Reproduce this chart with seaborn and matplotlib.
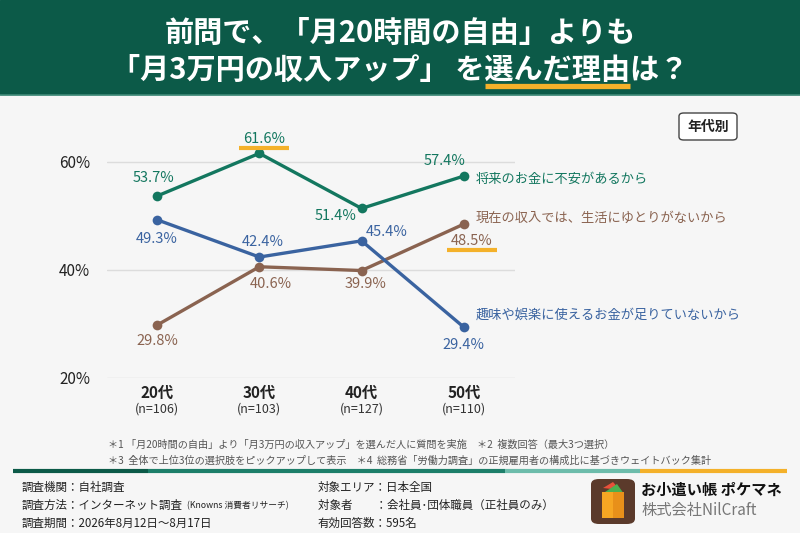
import matplotlib
matplotlib.use("Agg")
import matplotlib.pyplot as plt
from matplotlib.lines import Line2D
from matplotlib.patches import Rectangle, FancyBboxPatch, Polygon
import numpy as np
import pandas as pd
import seaborn as sns

# ---- data -------------------------------------------------------------
ages = ["20代", "30代", "40代", "50代"]
sample_sizes = ["(n=106)", "(n=103)", "(n=127)", "(n=110)"]

reasons = [
    "将来のお金に不安があるから",
    "現在の収入では、生活にゆとりがないから",
    "趣味や娯楽に使えるお金が足りていないから",
]
anxiety = [53.7, 61.6, 51.4, 57.4]
no_room = [29.8, 40.6, 39.9, 48.5]
hobby = [49.3, 42.4, 45.4, 29.4]

y_ticks = [20, 40, 60]

# ---- style --------------------------------------------------------------
GREEN_DARK = "#0c5a48"
BG = "#f6f6f6"
ORANGE = "#f4b12a"
palette = {reasons[0]: "#13775f", reasons[1]: "#8a6350", reasons[2]: "#3a63a0"}

sns.set_style("white")
plt.rcParams["font.family"] = ["Noto Sans CJK JP", "DejaVu Sans"]

W, H = 800, 533
fig = plt.figure(figsize=(W / 100, H / 100), dpi=100, facecolor=BG)
renderer = fig.canvas.get_renderer()


def fx(px):
    return px / W


def fy(py):
    return 1 - py / H


def text_width(s, **kw):
    t = fig.text(0, 0, s, **kw)
    w = t.get_window_extent(renderer=renderer).width
    t.remove()
    return w


# header band
fig.add_artist(Rectangle((0, fy(94)), 1, 94 / H, transform=fig.transFigure,
                         color=GREEN_DARK, zorder=0))
fig.add_artist(Line2D([0, 1], [fy(95), fy(95)], transform=fig.transFigure,
                      color="#3f8a78", lw=1.2))
title_kw = dict(color="white", fontsize=21, fontweight="bold")
line1 = "前問で、「月20時間の自由」よりも"
pre, mark, post = "「月3万円の収入アップ」 を", "選んだ理由", "は？"
fig.text(0.5, fy(33), line1, ha="center", va="center", **title_kw)
fig.text(0.5, fy(70), pre + mark + post, ha="center", va="center", **title_kw)
full_w = text_width(pre + mark + post, **title_kw)
pre_w = text_width(pre, **title_kw)
mark_w = text_width(mark, **title_kw)
u0 = W / 2 - full_w / 2 + pre_w
fig.add_artist(Line2D([fx(u0), fx(u0 + mark_w)], [fy(86), fy(86)], transform=fig.transFigure,
                      color=ORANGE, lw=3.8, solid_capstyle="butt"))

# ---- chart --------------------------------------------------------------
ax = fig.add_axes([fx(107), fy(378), fx(515) - fx(107), (378 - 135) / H])
ax.set_facecolor(BG)

df = pd.DataFrame({
    "age": ages * 3,
    "value": anxiety + no_room + hobby,
    "reason": [reasons[0]] * 4 + [reasons[1]] * 4 + [reasons[2]] * 4,
})
df["pos"] = df["age"].map({a: i for i, a in enumerate(ages)})

sns.lineplot(data=df, x="pos", y="value", hue="reason", palette=palette,
             marker="o", markersize=7, markeredgewidth=0, linewidth=2.4,
             legend=False, ax=ax, zorder=3)

ax.set_xlim(-0.49, 3.5)
ax.set_ylim(20, 65)
ax.set_yticks(y_ticks)
ax.set_yticklabels([f"{t}%" for t in y_ticks], fontsize=11, color="#222222")
ax.yaxis.grid(True, color="#dcdcdc", lw=1)
ax.tick_params(axis="y", length=0, pad=12)
ax.set_xticks(range(len(ages)))
ax.set_xticklabels(ages, fontsize=11, fontweight="bold", color="#222222")
ax.tick_params(axis="x", length=0, pad=5)
ax.set_xlabel("")
ax.set_ylabel("")
for s in ax.spines.values():
    s.set_visible(False)
for i, n in enumerate(sample_sizes):
    ax.annotate(n, (i, 0), xycoords=("data", "axes fraction"), xytext=(0, -31),
                textcoords="offset pixels", ha="center", va="center",
                fontsize=9, color="#333333")

# value labels: offsets in pixels (dx, dy with y up)
label_offsets = {
    reasons[0]: [(-4, 18), (5, 14), (-26, -8), (-19, 15)],
    reasons[1]: [(0, -16), (11, -17), (4, -13), (8, -17)],
    reasons[2]: [(0, -19), (3, 15), (25, 9), (0, -18)],
}
highlight = {(reasons[0], 1), (reasons[1], 3)}
series = {reasons[0]: anxiety, reasons[1]: no_room, reasons[2]: hobby}
for r, vals in series.items():
    for i, v in enumerate(vals):
        dx, dy = label_offsets[r][i]
        ax.annotate(f"{v:.1f}%", (i, v), xytext=(dx, dy), textcoords="offset pixels",
                    ha="center", va="center", fontsize=10.5, color=palette[r], zorder=5)
        if (r, i) in highlight:
            px, py = ax.transData.transform((i, v))
            cx, cy = px + dx, py + dy - 9
            fig.add_artist(Line2D([(cx - 25) / W, (cx + 25) / W], [cy / H, cy / H],
                                  transform=fig.transFigure, color=ORANGE, lw=3,
                                  solid_capstyle="butt", zorder=1))

# series names to the right of the last point
name_offsets = {reasons[0]: -3, reasons[1]: 6, reasons[2]: 12}
for r, vals in series.items():
    ax.annotate(r, (3, vals[-1]), xytext=(12, name_offsets[r]), textcoords="offset pixels",
                ha="left", va="center", fontsize=9.5, color=palette[r],
                annotation_clip=False)

# 年代別 badge
fig.add_artist(FancyBboxPatch((fx(679), fy(140)), fx(737) - fx(679), (140 - 113) / H,
                              boxstyle="round,pad=0,rounding_size=0.006",
                              transform=fig.transFigure, fc="white", ec="#444444", lw=1))
fig.text(fx(708), fy(126.5), "年代別", ha="center", va="center", fontsize=10,
         fontweight="bold", color="#222222")

# ---- footnotes ------------------------------------------------------------
fig.text(fx(108), fy(445), "＊1 「月20時間の自由」より「月3万円の収入アップ」を選んだ人に質問を実施　＊2  複数回答（最大3つ選択）",
         fontsize=7.3, color="#555555", va="center")
fig.text(fx(108), fy(461), "＊3  全体で上位3位の選択肢をピックアップして表示　＊4  総務省「労働力調査」の正規雇用者の構成比に基づきウェイトバック集計",
         fontsize=7.3, color="#555555", va="center")

# divider bar
for x0, x1, c in [(13, 148, GREEN_DARK), (148, 505, "#1d7f6a"),
                  (505, 640, "#6dbcab"), (640, 787, ORANGE)]:
    fig.add_artist(Line2D([fx(x0), fx(x1)], [fy(471), fy(471)], transform=fig.transFigure,
                          color=c, lw=3, solid_capstyle="butt"))

info_kw = dict(fontsize=8.3, color="#222222", va="center")
left_info = ["調査機関：自社調査", "調査方法：インターネット調査", "調査期間：2026年8月12日～8月17日"]
right_info = ["対象エリア：日本全国", "対象者　　：会社員･団体職員（正社員のみ）", "有効回答数：595名"]
for k, y in enumerate([487, 505, 523]):
    fig.text(fx(22), fy(y), left_info[k], **info_kw)
    fig.text(fx(318), fy(y), right_info[k], **info_kw)
src_x = 22 + text_width(left_info[1], fontsize=8.3) + 4
fig.text(fx(src_x), fy(506), "(Knowns 消費者リサーチ)", fontsize=6.3, color="#222222", va="center")

# logo
fig.add_artist(FancyBboxPatch((fx(591), fy(524)), fx(44), 45 / H,
                              boxstyle="round,pad=0,rounding_size=0.01",
                              transform=fig.transFigure, fc="#5b3a2b", ec="none"))
fig.add_artist(Polygon([(fx(603), fy(488)), (fx(613), fy(482)), (fx(620), fy(490))],
                       closed=True, transform=fig.transFigure, fc="#e8503a", ec="none"))
fig.add_artist(Polygon([(fx(605), fy(492)), (fx(617), fy(484)), (fx(624), fy(494))],
                       closed=True, transform=fig.transFigure, fc="#4caf50", ec="none"))
fig.add_artist(Rectangle((fx(602), fy(518)), fx(22), 26 / H, transform=fig.transFigure,
                         fc="#f6a623", ec="none"))
fig.add_artist(Rectangle((fx(613), fy(518)), fx(11), 26 / H, transform=fig.transFigure,
                         fc="#e8901a", ec="none"))
fig.text(fx(641), fy(490), "お小遣い帳 ポケマネ", fontsize=11, fontweight="bold",
         color="#111111", va="center")
fig.text(fx(641), fy(511), "株式会社NilCraft", fontsize=11, color="#777777", va="center")

fig.savefig("out.png", dpi=100, facecolor=BG)
